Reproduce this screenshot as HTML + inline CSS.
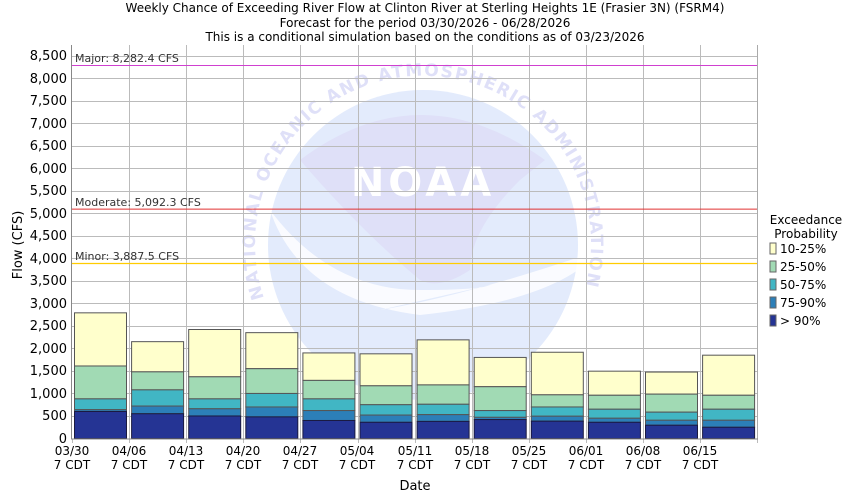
<!DOCTYPE html>
<html><head><meta charset="utf-8"><style>
body{margin:0;background:#fff}
svg{display:block;font-family:"DejaVu Sans","Liberation Sans",sans-serif}
</style></head><body>
<svg id="s" width="850" height="500" xmlns="http://www.w3.org/2000/svg">
<rect width="850" height="500" fill="#fff"/>
<g font-size="12" text-anchor="middle" fill="#000">
<text x="425" y="12">Weekly Chance of Exceeding River Flow at Clinton River at Sterling Heights 1E (Frasier 3N) (FSRM4)</text>
<text x="425" y="27">Forecast for the period 03/30/2026 - 06/28/2026</text>
<text x="425" y="41">This is a conditional simulation based on the conditions as of 03/23/2026</text>
</g>
<defs><path id="arc" d="M 264 298 A 168 168 0 1 1 582 298"/></defs>
<circle cx="423" cy="245" r="155" fill="#e3ebfc"/>
<path d="M300 160 Q 420 70 545 160 L 520 180 Q 470 230 470 270 Q 440 290 420 280 Q 360 230 300 160 Z" fill="#dfe0f8"/>
<path d="M270 210 Q 330 290 420 290 Q 480 290 490 285 L 380 310 Q 470 295 600 250 Q 560 300 420 315 Q 300 300 270 210 Z" fill="#fff" opacity="0.8"/>
<text font-size="40" font-weight="bold" fill="#fff" x="423" y="196" text-anchor="middle" letter-spacing="4">NOAA</text>
<text font-size="17" fill="#dfe0f8" font-weight="bold"><textPath href="#arc" textLength="625" lengthAdjust="spacing">NATIONAL OCEANIC AND ATMOSPHERIC ADMINISTRATION</textPath></text>
<g id="grid" stroke="#bbb" stroke-width="1"></g>
<g id="bars"></g>
<line x1="72" x2="758" y1="65.5" y2="65.5" stroke="#d040d0"/>
<line x1="72" x2="758" y1="209.1" y2="209.1" stroke="#e03030"/>
<line x1="72" x2="758" y1="263.5" y2="263.5" stroke="#ffcc00" stroke-width="1.3"/>
<g font-size="11" fill="#333">
<text x="75" y="62">Major: 8,282.4 CFS</text>
<text x="75" y="206">Moderate: 5,092.3 CFS</text>
<text x="75" y="260">Minor: 3,887.5 CFS</text>
</g>
<line x1="71.5" x2="71.5" y1="45" y2="439" stroke="#888"/>
<line x1="757.5" x2="757.5" y1="45" y2="439" stroke="#aaa"/>
<line x1="71" x2="758" y1="439" y2="439" stroke="#888"/>
<g font-size="13" text-anchor="end" fill="#000">
<text x="67" y="443">0</text><text x="67" y="420">500</text><text x="67" y="398">1,000</text><text x="67" y="375">1,500</text><text x="67" y="353">2,000</text><text x="67" y="330">2,500</text><text x="67" y="308">3,000</text><text x="67" y="285">3,500</text><text x="67" y="263">4,000</text><text x="67" y="240">4,500</text><text x="67" y="218">5,000</text><text x="67" y="195">5,500</text><text x="67" y="173">6,000</text><text x="67" y="150">6,500</text><text x="67" y="128">7,000</text><text x="67" y="105">7,500</text><text x="67" y="83">8,000</text><text x="67" y="60">8,500</text>
</g>
<g font-size="12" text-anchor="middle" fill="#000">
<text x="72" y="455">03/30</text><text x="72" y="469">7 CDT</text>
<text x="129" y="455">04/06</text><text x="129" y="469">7 CDT</text>
<text x="186" y="455">04/13</text><text x="186" y="469">7 CDT</text>
<text x="243" y="455">04/20</text><text x="243" y="469">7 CDT</text>
<text x="300" y="455">04/27</text><text x="300" y="469">7 CDT</text>
<text x="357" y="455">05/04</text><text x="357" y="469">7 CDT</text>
<text x="415" y="455">05/11</text><text x="415" y="469">7 CDT</text>
<text x="472" y="455">05/18</text><text x="472" y="469">7 CDT</text>
<text x="529" y="455">05/25</text><text x="529" y="469">7 CDT</text>
<text x="586" y="455">06/01</text><text x="586" y="469">7 CDT</text>
<text x="643" y="455">06/08</text><text x="643" y="469">7 CDT</text>
<text x="700" y="455">06/15</text><text x="700" y="469">7 CDT</text>
<text x="415" y="490" font-size="13">Date</text>
<text transform="translate(22,245) rotate(-90)" font-size="13">Flow (CFS)</text>
</g>
<g font-size="12" fill="#000">
<text x="806" y="224" text-anchor="middle">Exceedance</text>
<text x="806" y="238" text-anchor="middle">Probability</text>
<rect x="770" y="243" width="6" height="11" fill="#ffffcc" stroke="#666"/><text x="780" y="253">10-25%</text>
<rect x="770" y="261" width="6" height="11" fill="#a1dab4" stroke="#666"/><text x="780" y="271">25-50%</text>
<rect x="770" y="279" width="6" height="11" fill="#41b6c4" stroke="#666"/><text x="780" y="289">50-75%</text>
<rect x="770" y="297" width="6" height="11" fill="#2c7fb8" stroke="#666"/><text x="780" y="307">75-90%</text>
<rect x="770" y="315" width="6" height="11" fill="#253494" stroke="#666"/><text x="780" y="325">&gt; 90%</text>
</g>
</svg>
<script>
var Y=v=>438.5-v*0.04504,ns="http://www.w3.org/2000/svg";
var g=document.getElementById("grid"),b=document.getElementById("bars");
function el(p,t,a){var e=document.createElementNS(ns,t);for(var k in a)e.setAttribute(k,a[k]);p.appendChild(e);}
for(var v=500;v<=8500;v+=500){var y=Math.round(Y(v))+.5;el(g,"line",{x1:72,x2:758,y1:y,y2:y});}
for(var i=1;i<12;i++){var x=Math.round(72+57.1*i)+.5;el(g,"line",{x1:x,x2:x,y1:45,y2:439});}
for(var i=0;i<=12;i++){var x=Math.round(72+57.1*i)+.5;el(g,"line",{x1:x,x2:x,y1:439,y2:443});}
var d=[[2790,1610,880,640,600],[2150,1480,1080,720,550],[2420,1370,880,660,500],[2350,1550,1000,700,480],[1900,1290,880,620,400],[1880,1170,750,520,360],[2190,1190,760,530,380],[1800,1150,620,470,420],[1915,970,700,495,385],[1495,960,650,450,360],[1475,985,585,405,295],[1850,960,650,405,250]];
var c=["#ffffcc","#a1dab4","#41b6c4","#2c7fb8","#253494"];
d.forEach((r,i)=>{var x=72+57.1*i+2.5;r.forEach((v,j)=>{var lo=j<4?r[j+1]:0;el(b,"rect",{x:x,y:Y(v),width:52,height:Y(lo)-Y(v),fill:c[j],stroke:j==4?"#1a1a40":"#555","stroke-width":1});});});
</script>
</body></html>
